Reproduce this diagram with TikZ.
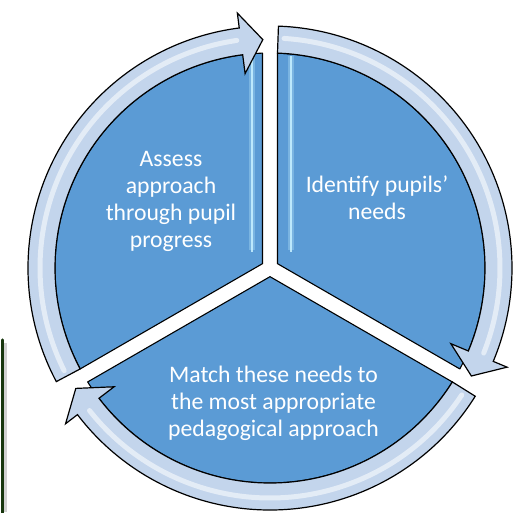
\documentclass[tikz,border=0pt]{standalone}
\usepackage{fontspec}
\setmainfont{Carlito}
\definecolor{secblue}{HTML}{5B9BD5}
\definecolor{ringblue}{HTML}{C3D5EC}
\definecolor{glowcyan}{HTML}{C4EEFF}
\definecolor{bargreen}{HTML}{17360D}
\newcommand\ringarr[3]{% tail angle, head-back angle, tip angle
  \draw[ringarrow] (#1:242) arc[start angle=#1, end angle=#2, radius=242]
    -- (#2:257) -- (#3:228.5) -- (#2:196) -- (#2:215)
    arc[start angle=#2, end angle=#1, radius=215] -- cycle;
  \draw[gloss] (#1-1.5:230) arc[start angle=#1-1.5, end angle=#2+1, radius=230];
}
\begin{document}
\begin{tikzpicture}[x=1pt,y=1pt,
  sector/.style={fill=secblue, draw=black, line width=1.1pt, line join=round},
  ringarrow/.style={fill=ringblue, draw=black, line width=1.2pt, line join=miter},
  gloss/.style={draw=white, line width=5pt, opacity=0.55, line cap=round},
  glowsoft/.style={draw=glowcyan, line width=6pt, opacity=0.3},
  glowline/.style={draw=glowcyan, line width=2.5pt, opacity=0.9},
  sectext/.style={text=white, font=\fontsize{23.7}{27}\selectfont, align=center, inner sep=0pt, anchor=north}]
\useasboundingbox (-270,-244) rectangle (243,268);
% left edge bar (cropped box)
\draw[black!30, line width=3pt, opacity=0.6] (-264,-75) -- (-264,-244);
\draw[bargreen, line width=3.5pt, line cap=round] (-267.5,-72) -- (-267.5,-246);
% sectors
\coordinate (C) at (0,0);
\draw[sector] (150:8.66) -- (208:215) arc[start angle=208, end angle=92, radius=215] -- cycle;
\draw[sector] (30:8.66) -- (88:215) arc[start angle=88, end angle=-28, radius=215] -- cycle;
\draw[sector] (270:8.66) -- (-32:215) arc[start angle=-32, end angle=-148, radius=215] -- cycle;
% glow lines beside the vertical gap
\draw[glowsoft] (-18,212) -- (-18,18);
\draw[glowsoft] (21,212) -- (21,18);
\draw[glowline] (-18,212) -- (-18,16);
\draw[glowline] (21,212) -- (21,16);
% ring arrows
\ringarr{208}{97.3}{91.8}
\ringarr{88}{-22.7}{-28.2}
\ringarr{-32}{-142.7}{-148.2}
% texts
\node[sectext] (assess) at (-99,117) {Assess\\approach\\through pupil\\progress};
\node[sectext] (identify) at (107,92.5) {Identify pupils’\\needs};
\node[sectext] (match) at (3.5,-97.5) {Match these needs to\\the most appropriate\\pedagogical approach};
\end{tikzpicture}
\end{document}
